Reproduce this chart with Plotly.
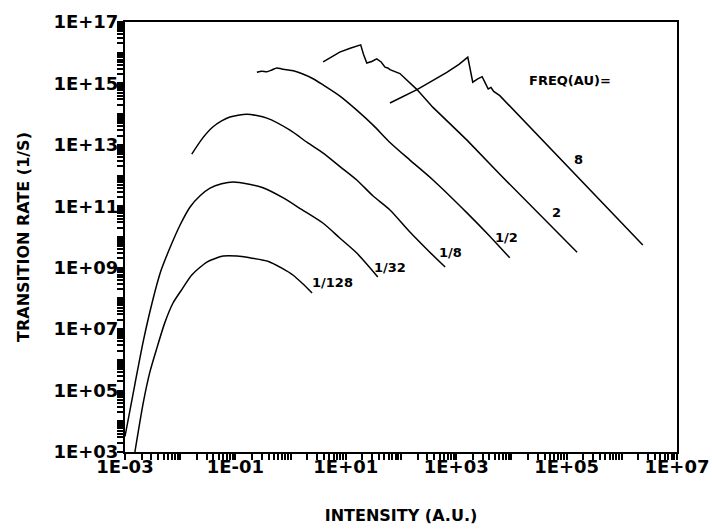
import plotly.graph_objects as go

# frequency labels (a.u.)
freq_labels = ["1/128", "1/32", "1/8", "1/2", "2", "8"]

# intensity (a.u.) and transition rate (1/s)
int_f128 = [1.51e-3, 2.14e-3, 2.82e-3, 3.80e-3, 5.25e-3, 7.41e-3, 1.12e-2, 1.62e-2, 3.09e-2,
            6.03e-2, 0.107, 0.182, 0.398, 0.708, 1.10, 1.66, 2.45]
rate_f128 = [1.0e3, 4.0e4, 4.0e5, 2.5e6, 1.6e7, 7.1e7, 2.2e8, 5.8e8, 1.55e9,
             2.4e9, 2.4e9, 2.1e9, 1.6e9, 9.5e8, 5.8e8, 3.0e8, 1.5e8]

int_f32 = [1.0e-3, 1.51e-3, 2.14e-3, 3.09e-3, 4.47e-3, 6.61e-3, 1.0e-2, 1.51e-2, 2.29e-2, 3.47e-2,
           5.62e-2, 9.12e-2, 0.178, 0.316, 0.724, 1.58, 3.89, 7.76, 15.8, 38.0]
rate_f32 = [3.2e3, 1.6e5, 4.0e6, 7.1e7, 7.9e8, 4.7e9, 2.5e10, 9.5e10, 2.2e11, 3.9e11,
            5.4e11, 6.2e11, 5.2e11, 4.0e11, 1.9e11, 7.9e10, 2.8e10, 9.3e9, 3.0e9, 5.0e8]

int_f8 = [1.62e-2, 2.51e-2, 3.89e-2, 5.62e-2, 7.94e-2, 0.162, 0.372, 0.977, 2.0, 3.89,
          7.76, 15.8, 30.9, 63.1, 145, 316, 631]
rate_f8 = [5.0e12, 1.6e13, 3.8e13, 6.0e13, 8.1e13, 1.0e14, 7.4e13, 3.0e13, 1.2e13, 5.4e12,
           2.0e12, 7.2e11, 2.2e11, 7.6e10, 1.45e10, 3.5e9, 1.05e9]

int_f2 = [0.245, 0.302, 0.372, 0.457, 0.562, 0.692, 0.851, 1.12, 1.58, 2.51,
          3.89, 7.94, 15.8, 31.6, 63.1, 145, 380, 1585, 3981, 9333]
rate_f2 = [2.3e15, 2.5e15, 2.4e15, 2.75e15, 3.2e15, 2.95e15, 2.8e15, 2.6e15, 2.1e15, 1.45e15,
           8.9e14, 3.8e14, 1.35e14, 4.3e13, 1.2e13, 3.2e12, 7.2e11, 6.0e10, 1.1e10, 2.1e9]

int_2 = [3.89, 5.62, 7.76, 12.0, 16.6, 18.6, 20.9, 24.0, 29.5, 36.3, 43.7, 51.3,
         57.5, 63.1, 95.5, 195, 380, 871, 1585, 6166, 14450, 33110, 154900]
rate_2 = [5.0e15, 7.4e15, 1.05e16, 1.4e16, 1.66e16, 1.8e16, 8.9e15, 4.6e15, 5.2e15, 6.3e15, 5.0e15, 3.4e15,
          3.2e15, 2.8e15, 2.1e15, 6.3e14, 1.66e14, 4.0e13, 1.4e13, 1.1e12, 2.4e11, 5.4e10, 3.2e9]

int_8 = [63.1, 195, 380, 676, 1122, 1622, 1820, 1995, 2455, 2951, 3388, 3802,
         4266, 4786, 6166, 14450, 63100, 316200, 2.4e6]
rate_8 = [2.3e14, 6.3e14, 1.26e15, 2.3e15, 4.2e15, 7.2e15, 2.5e15, 1.1e15, 1.4e15, 1.66e15, 1.0e15, 6.6e14,
          7.4e14, 5.5e14, 4.0e14, 8.1e13, 5.1e12, 2.5e11, 5.5e9]

x_tick_vals = [1e-3, 1e-1, 1e1, 1e3, 1e5, 1e7]
x_tick_text = ["1E-03", "1E-01", "1E+01", "1E+03", "1E+05", "1E+07"]
y_tick_vals = [1e3, 1e5, 1e7, 1e9, 1e11, 1e13, 1e15, 1e17]
y_tick_text = ["1E+03", "1E+05", "1E+07", "1E+09", "1E+11", "1E+13", "1E+15", "1E+17"]

series = [
    (int_f128, rate_f128),
    (int_f32, rate_f32),
    (int_f8, rate_f8),
    (int_f2, rate_f2),
    (int_2, rate_2),
    (int_8, rate_8),
]
# the smooth curves are drawn as splines, the ones with sharp resonance drops stay linear
shapes = ["spline", "spline", "spline", "spline", "linear", "linear"]

FONT = "DejaVu Sans"

fig = go.Figure()
for (xs, ys), name, shp in zip(series, freq_labels, shapes):
    fig.add_trace(go.Scatter(x=xs, y=ys, name=name, mode="lines",
                             line=dict(color="black", width=1.5, shape=shp, smoothing=0.7)))

# curve labels (positions in log10 units)
label_pos = [(0.35, 8.53), (1.47, 9.02), (2.65, 9.51), (3.67, 10.0), (4.70, 10.81), (5.10, 12.51)]
for name, (lx, ly) in zip(freq_labels, label_pos):
    fig.add_annotation(x=lx, y=ly, text=name, showarrow=False, xanchor="left", yanchor="middle",
                       font=dict(family=FONT, size=13, color="black", weight="bold"))
fig.add_annotation(x=4.28, y=15.11, text="FREQ(AU)=", showarrow=False, xanchor="left",
                   yanchor="middle", font=dict(family=FONT, size=13, color="black", weight="bold"))


def all_ticks(lo, hi, majors, labels):
    # every 1..9 x 10^e gets a tick mark; only the majors carry text
    vals, text = [], []
    for e in range(lo, hi + 1):
        for m in range(1, 10):
            if e == hi and m > 1:
                break
            v = m * 10.0 ** e
            vals.append(v)
            text.append(labels[majors.index(v)] if v in majors else "")
    return vals, text


axis_common = dict(
    type="log", showgrid=False, zeroline=False,
    showline=True, linecolor="black", linewidth=2, mirror=True,
    ticks="outside", ticklen=6, tickwidth=1.5, tickcolor="black",
    tickmode="array", ticklabeloverflow="allow",
    tickfont=dict(family=FONT, size=18, color="black", weight="bold"),
)

xv, xt = all_ticks(-3, 7, x_tick_vals, x_tick_text)
yv, yt = all_ticks(3, 17, y_tick_vals, y_tick_text)

fig.update_xaxes(
    **axis_common,
    range=[-3, 7],
    tickvals=xv, ticktext=xt,
    ticklabelstandoff=-9,
    title=dict(text="INTENSITY (A.U.)", standoff=34,
               font=dict(family=FONT, size=16, color="black", weight="bold")),
)
fig.update_yaxes(
    **axis_common,
    range=[3, 17],
    tickvals=yv, ticktext=yt,
    ticklabelstandoff=-5,
    title=dict(text="TRANSITION RATE (1/S)", standoff=20,
               font=dict(family=FONT, size=16, color="black", weight="bold")),
)

fig.update_layout(
    width=712, height=532,
    margin=dict(l=125, r=35, t=22, b=80, autoexpand=False),
    showlegend=False,
    plot_bgcolor="white", paper_bgcolor="white",
    font=dict(family=FONT, color="black"),
)

# drop the browser's default 8px body margin so the figure fills the window exactly
fig.write_html("out.html", config={"displayModeBar": False},
               post_script="document.body.style.margin = '0px';")
